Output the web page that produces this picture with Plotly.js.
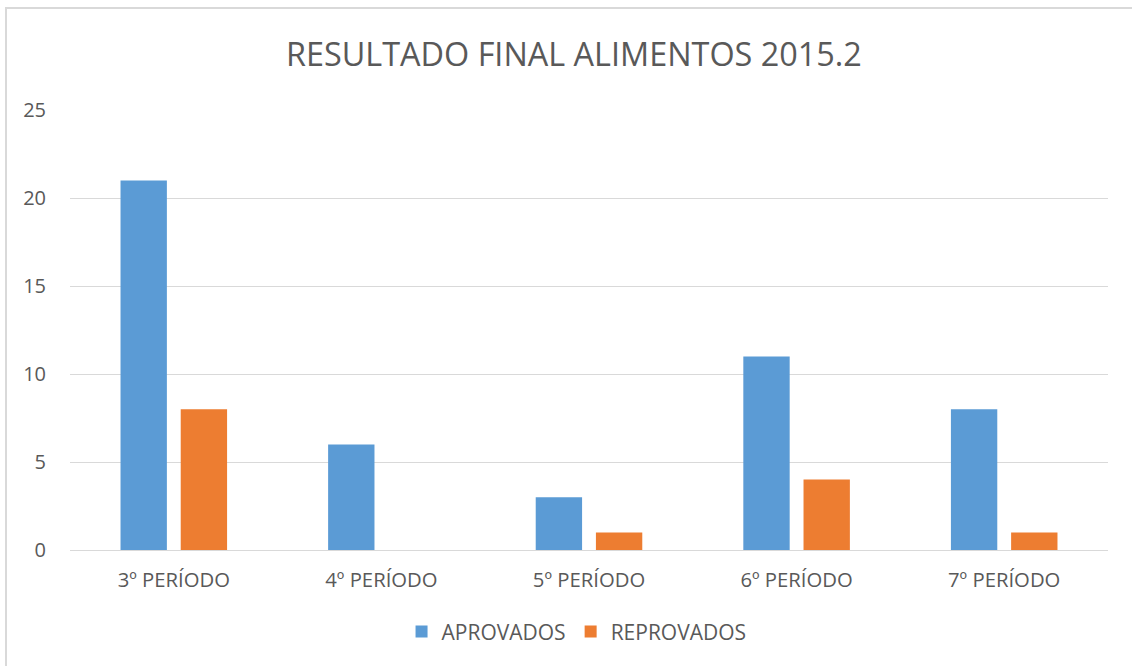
<!DOCTYPE html>
<html><head><meta charset="utf-8">
<script src="https://cdn.plot.ly/plotly-3.0.1.min.js"></script>
<style>
html,body{margin:0;padding:0;background:#fff;overflow:hidden;}
#frame{position:absolute;left:5px;top:7px;width:1200px;height:720px;border:2px solid #d9d9d9;box-sizing:border-box;pointer-events:none;z-index:5;}
#chart{position:absolute;left:0;top:0;width:1132px;height:666px;}
</style></head>
<body>
<div id="chart"></div><div id="frame"></div>
<script>
const categories = ["3º PERÍODO","4º PERÍODO","5º PERÍODO","6º PERÍODO","7º PERÍODO"];
const aprovados = [21, 6, 3, 11, 8];
const reprovados = [8, 0, 1, 4, 1];
const yTicks = [0, 5, 10, 15, 20, 25];
const F = "Open Sans, sans-serif";
const C = "#595959";
const data = [
  {type:"bar", name:"APROVADOS", x:categories, y:aprovados, marker:{color:"#5b9bd5"}, hoverinfo:"y"},
  {type:"bar", name:"REPROVADOS", x:categories, y:reprovados, marker:{color:"#ed7d31"}, hoverinfo:"y"}
];
const layout = {
  width:1132, height:666,
  margin:{l:70, r:24, t:110, b:116},
  paper_bgcolor:"#fff", plot_bgcolor:"#fff",
  title:{text:"RESULTADO FINAL ALIMENTOS 2015.2", font:{family:F, size:32.4, color:C}, x:0.507, xanchor:"center", y:0.918, yanchor:"middle"},
  barmode:"group", bargap:0.42, bargroupgap:0.23,
  xaxis:{tickfont:{family:F, size:20.3, color:C}, showline:true, linecolor:"#d9d9d9", linewidth:1, ticks:"outside", ticklen:12, tickcolor:"rgba(0,0,0,0)", showgrid:false},
  yaxis:{range:[0,25], tickvals:yTicks, ticktext:yTicks.map(String), tickfont:{family:F, size:20, color:C}, gridcolor:"#d9d9d9", gridwidth:1, zeroline:false, ticks:"outside", ticklen:19, tickcolor:"rgba(0,0,0,0)"},
  showlegend:true,
  legend:{orientation:"h", x:0.488, xanchor:"center", y:-0.186, yanchor:"middle", font:{family:F, size:21, color:C}, itemwidth:30, traceorder:"normal", itemclick:false}
};
Plotly.newPlot("chart", data, layout, {displayModeBar:false, staticPlot:true});
</script>
</body></html>
